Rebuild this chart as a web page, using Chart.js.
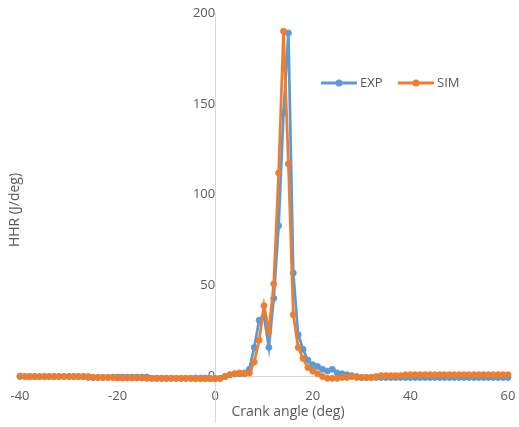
<!DOCTYPE html>
<html>
<head>
<meta charset="utf-8">
<script src="https://cdn.jsdelivr.net/npm/chart.js@4/dist/chart.umd.min.js"></script>
<style>
html,body{margin:0;padding:0;background:#fff;}
#wrap{width:519px;height:427px;position:relative;}
</style>
</head>
<body>
<div id="wrap"><canvas id="c" width="519" height="427"></canvas></div>
<script>
const crankAngle = [-40,-39,-38,-37,-36,-35,-34,-33,-32,-31,-30,-29,-28,-27,-26,-25,-24,-23,-22,-21,-20,-19,-18,-17,-16,-15,-14,-13,-12,-11,-10,-9,-8,-7,-6,-5,-4,-3,-2,-1,0,1,2,3,4,5,6,7,8,9,10,11,12,13,14,15,16,17,18,19,20,21,22,23,24,25,26,27,28,29,30,31,32,33,34,35,36,37,38,39,40,41,42,43,44,45,46,47,48,49,50,51,52,53,54,55,56,57,58,59,60];

const expHHR = [0,0,0,0,0,0,0,0,0,0,0,0,0,0,
  -0.5,-0.5,-0.5,-0.5,-0.5,
  -0.3,-0.3,-0.3,-0.3,-0.3,-0.3,-0.3,-0.3,
  -1,-1,-1,-1,-1,-1,-1,-1,-1,
  -0.8,-0.8,-0.8,-1,-1,-1,
  0,1,1.5,1.5,2,4,
  16,31,33,16,43,83,145,189,57,23,15,
  9,6.5,5.5,4,3,4,2,1.5,1,0.5,0,
  -0.5,-0.5,-0.5,-0.5,-0.5,-0.5,-0.5,-0.5,-0.5,-0.5,-0.5,-0.5,-0.5,-0.5,-0.5,-0.5,
  -0.5,-0.5,-0.5,-0.5,-0.5,-0.5,-0.5,-0.5,-0.5,-0.5,-0.5,-0.5,-0.5,-0.5,-0.5];

const simHHR = [0.3,0,0,0,0,0,0,0,0,0,0,0,0,0,0,
  -0.5,-0.5,-0.5,-0.5,-0.5,-0.8,-0.8,-0.8,-0.8,-0.8,-0.8,-1,-1,-1,-1,-1,-1,-1,-1,-1,-1,-1.2,-1.2,-1.2,-1.2,
  -1.2,-1,0,1,1.5,2,1.5,2,
  8,20,39,25,51,112,190,117,34,16,10,
  5,3,1.5,0,-1,-1,-1,-0.5,-0.5,0,-0.5,
  -0.5,-0.5,-0.5,0,
  0.5,0.5,0.5,0.5,0.5,
  1,1,1,1,1,1,1,1,1,1,1,1,1,1,1,1,1,1,1,1,1,1];

const yTicks = [0,50,100,150,200];
const xTicks = [-40,-20,0,20,40,60];
const seriesNames = ['EXP','SIM'];
const seriesColors = ['#5B9BD5','#ED7D31'];
const xTitle = 'Crank angle (deg)';
const yTitle = 'HHR (J/deg)';

const FONT = '"Open Sans", "Liberation Sans", sans-serif';
const TXT = '#595959';

function pts(ys){ return crankAngle.map((x,i)=>({x:x,y:ys[i]})); }

function zeroFit(s, dim){
  s[dim] = 0;
  s.paddingLeft = 0; s.paddingRight = 0; s.paddingTop = 0; s.paddingBottom = 0;
}

const decorPlugin = {
  id:'decor',
  afterDraw(chart){
    const ctx = chart.ctx;
    ctx.save();
    ctx.fillStyle = TXT;
    ctx.font = '14px ' + FONT;
    ctx.textAlign = 'center';
    ctx.textBaseline = 'middle';
    ctx.fillText(xTitle, 288, 412);
    ctx.translate(15, 210);
    ctx.rotate(-Math.PI/2);
    ctx.fillText(yTitle, 0, 0);
    ctx.restore();
    // legend
    ctx.save();
    const items = [{x:321, label:seriesNames[0], color:seriesColors[0]},{x:398, label:seriesNames[1], color:seriesColors[1]}];
    const ly = 83;
    items.forEach(it=>{
      ctx.strokeStyle = it.color; ctx.lineWidth = 3;
      ctx.beginPath(); ctx.moveTo(it.x, ly); ctx.lineTo(it.x+36, ly); ctx.stroke();
      ctx.fillStyle = it.color;
      ctx.beginPath(); ctx.arc(it.x+18, ly, 3.5, 0, Math.PI*2); ctx.fill();
      ctx.fillStyle = TXT; ctx.font = '13px ' + FONT;
      ctx.textAlign = 'left'; ctx.textBaseline = 'middle';
      ctx.fillText(it.label, it.x+39, ly);
    });
    ctx.restore();
  }
};

new Chart(document.getElementById('c'), {
  type:'line',
  data:{
    datasets:[
      {label:seriesNames[0], data:pts(expHHR), borderColor:seriesColors[0], backgroundColor:seriesColors[0],
       borderWidth:2.75, pointRadius:3, pointBorderWidth:1, pointBackgroundColor:seriesColors[0], pointBorderColor:seriesColors[0], tension:0, order:1},
      {label:seriesNames[1], data:pts(simHHR), borderColor:seriesColors[1], backgroundColor:seriesColors[1],
       borderWidth:2.75, pointRadius:3, pointBorderWidth:1, pointBackgroundColor:seriesColors[1], pointBorderColor:seriesColors[1], tension:0, order:0}
    ]
  },
  options:{
    responsive:false,
    animation:false,
    clip:false,
    layout:{padding:{left:20,right:11,top:13,bottom:2}},
    plugins:{legend:{display:false}, tooltip:{enabled:false}},
    scales:{
      x:{type:'linear', min:-40, max:60, position:{y:0},
         grid:{display:false, drawTicks:false},
         border:{display:true, color:'#d9d9d9', width:1},
         afterBuildTicks(s){ s.ticks = xTicks.map(v=>({value:v})); },
         afterFit(s){ zeroFit(s,'height'); },
         ticks:{color:TXT, font:{family:FONT, size:13}, padding:12, maxRotation:0, autoSkip:false}},
      y:{type:'linear', min:-25, max:200, position:{x:0},
         grid:{display:false, drawTicks:false},
         border:{display:true, color:'#d9d9d9', width:1},
         afterBuildTicks(s){ s.ticks = yTicks.map(v=>({value:v})); },
         afterFit(s){ zeroFit(s,'width'); },
         ticks:{color:TXT, font:{family:FONT, size:13}, padding:11, autoSkip:false}}
    }
  },
  plugins:[decorPlugin]
});
</script>
</body>
</html>
